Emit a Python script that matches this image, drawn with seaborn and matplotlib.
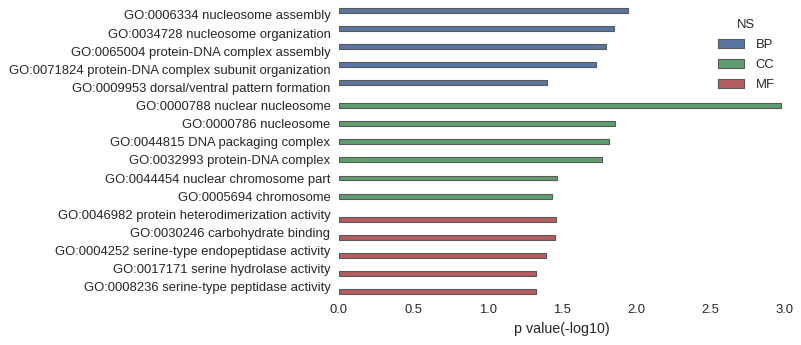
import matplotlib
matplotlib.use("Agg")
import matplotlib.pyplot as plt
import seaborn as sns
import pandas as pd

terms = [
    "GO:0006334 nucleosome assembly",
    "GO:0034728 nucleosome organization",
    "GO:0065004 protein-DNA complex assembly",
    "GO:0071824 protein-DNA complex subunit organization",
    "GO:0009953 dorsal/ventral pattern formation",
    "GO:0000788 nuclear nucleosome",
    "GO:0000786 nucleosome",
    "GO:0044815 DNA packaging complex",
    "GO:0032993 protein-DNA complex",
    "GO:0044454 nuclear chromosome part",
    "GO:0005694 chromosome",
    "GO:0046982 protein heterodimerization activity",
    "GO:0030246 carbohydrate binding",
    "GO:0004252 serine-type endopeptidase activity",
    "GO:0017171 serine hydrolase activity",
    "GO:0008236 serine-type peptidase activity",
]
namespaces = ["BP"] * 5 + ["CC"] * 6 + ["MF"] * 5
pvalues = [1.943, 1.849, 1.798, 1.730, 1.401,
           2.974, 1.858, 1.816, 1.771, 1.468, 1.435,
           1.462, 1.455, 1.395, 1.327, 1.327]
ns_order = ["BP", "CC", "MF"]
colors = ["#4C72B0", "#55A868", "#C44E52"]

df = pd.DataFrame({"term": terms, "NS": namespaces, "p": pvalues})

sns.set_style("white")
plt.rcParams["font.family"] = ["Liberation Sans", "DejaVu Sans"]
plt.rcParams["text.color"] = ".15"
plt.rcParams["axes.labelcolor"] = ".15"
plt.rcParams["xtick.color"] = ".15"
plt.rcParams["ytick.color"] = ".15"

fig = plt.figure(figsize=(8.01, 3.45), dpi=100)
ax = fig.add_axes([0.423, 0.1425, 0.557, 0.8405])

sns.barplot(data=df, x="p", y="term", hue="NS", hue_order=ns_order,
            order=terms, palette=colors, dodge=True, width=0.8,
            edgecolor=".35", linewidth=0.8, ax=ax)

ax.set_xlim(0, 3.0)
ax.set_ylim(15.5, -0.5)
ax.set_xlabel("p value(-log10)", fontsize=10.3, labelpad=4)
ax.set_ylabel("")
ax.tick_params(axis="both", length=0, labelsize=9.4, pad=6)
sns.despine(ax=ax, left=True, bottom=True)

leg = ax.legend(title="NS", loc="upper right", bbox_to_anchor=(1.003, 0.995),
                frameon=False, fontsize=9.4, title_fontsize=9.4,
                handlelength=2.0, handleheight=0.7, labelspacing=0.6,
                handletextpad=0.9)

fig.savefig("out.png", dpi=100)
